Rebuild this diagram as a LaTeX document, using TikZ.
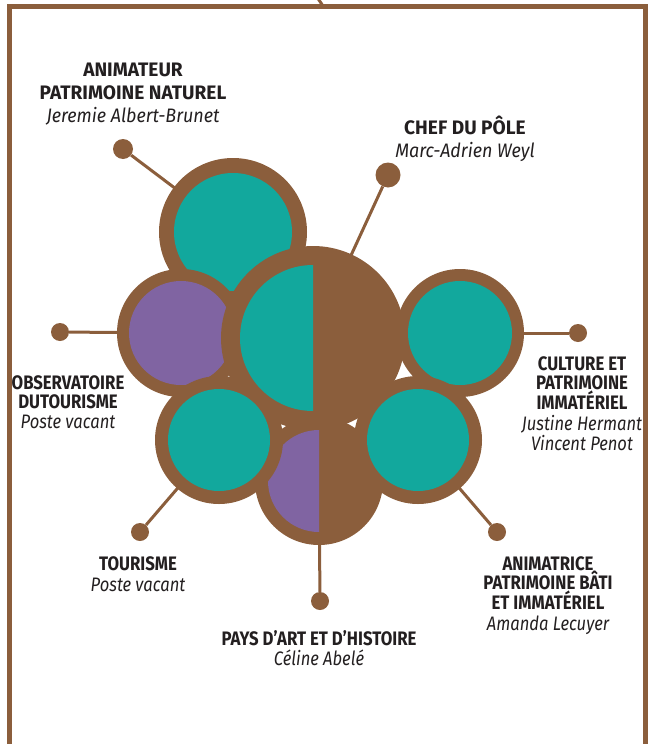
\documentclass[tikz,border=0pt]{standalone}
\usepackage{fontspec}
\setmainfont{Fira Sans}
\newfontfamily\serre{Fira Sans}[BoldFeatures={FakeStretch=0.86}, ItalicFeatures={FakeStretch=0.85}]
\newfontfamily\ample{Fira Sans}[BoldFeatures={FakeStretch=0.98}, ItalicFeatures={FakeStretch=0.92}]
\usetikzlibrary{positioning}
\definecolor{brun}{HTML}{8B5E3C}
\definecolor{turq}{HTML}{12A89D}
\definecolor{mauve}{HTML}{8064A2}
\definecolor{encre}{HTML}{231F20}
\tikzstyle{bulle} = [circle, fill=brun, inner sep=0pt, minimum size=128pt]
\tikzstyle{pastille} = [circle, fill=brun, inner sep=0pt, minimum size=18pt]
\tikzstyle{lien} = [draw=brun, line width=3pt, shorten >=-3pt]
\tikzstyle{titre} = [align=center, anchor=north, text=encre, inner sep=0pt, font=\serre\fontsize{19.5}{19.5}\selectfont\bfseries]
\tikzstyle{grandtitre} = [titre, font=\ample\fontsize{19.5}{23}\selectfont\bfseries]
\newcommand{\nom}[1]{{\mdseries\itshape #1}}

\begin{document}
\begin{tikzpicture}[x=1pt, y=-1pt]
\useasboundingbox (0,0) rectangle (655,744);
\clip (0,0) rectangle (655,744);

% cadre
\draw[brun, line width=4.5pt] (9.5,760) -- (9.5,6.5) -- (645.5,6.5) -- (645.5,760);
\draw[brun, line width=3pt] (317,-3) -- (323,6);

% les bulles
\node (natC) [bulle, minimum size=148pt] at (233,232) {};
\fill[turq] (natC.center) circle[radius=59pt];
\node (obsC) [bulle] at (181,333) {};
\fill[mauve] (obsC.center) circle[radius=52pt];
\node (chefC) [bulle, minimum size=184pt] at (313,338) {};
\fill[turq] ([yshift=73pt]chefC.center) arc[start angle=90, end angle=270, radius=73pt] -- cycle;
\node (culC) [bulle] at (460,333) {};
\fill[turq] (culC.center) circle[radius=52pt];
\node (payC) [bulle] at (319,481) {};
\fill[mauve] ([yshift=51pt]payC.center) arc[start angle=90, end angle=270, radius=51pt] -- cycle;
\node (tourC) [bulle] at (219,440) {};
\fill[turq] (tourC.center) circle[radius=51pt];
\node (aniC) [bulle] at (418,440) {};
\fill[turq] (aniC.center) circle[radius=51pt];

% pastilles et liens
\node (natD) [pastille, minimum size=20pt] at (123,149) {};
\node (chefD) [pastille, minimum size=25pt] at (388,175) {};
\node (obsD) [pastille] at (60,332) {};
\node (culD) [pastille] at (578,333) {};
\node (tourD) [pastille] at (140,532) {};
\node (payD) [pastille] at (320,601) {};
\node (aniD) [pastille] at (497,532) {};
\foreach \p in {nat,chef,obs,cul,tour,pay,ani}
  \draw[lien] (\p D) -- (\p C);

% textes
\node (natL) [grandtitre] at (133,62.5) {ANIMATEUR\\PATRIMOINE NATUREL\\\nom{Jeremie Albert-Brunet}};
\node (chefL) [grandtitre] at (465,116) {CHEF DU PÔLE\\\nom{Marc-Adrien Weyl}};
\node (obsL) [titre] at (68,375) {OBSERVATOIRE\\DUTOURISME\\\nom{Poste vacant}};
\node (culL) [titre] at (582,356) {CULTURE ET\\PATRIMOINE\\IMMATÉRIEL\\[2pt]\nom{Justine Hermant}\\\nom{Vincent Penot}};
\node (tourL) [titre] at (138,556) {TOURISME\\[2pt]\nom{Poste vacant}};
\node (payL) [titre] at (319,630.5) {PAYS D’ART ET D’HISTOIRE\\\nom{Céline Abelé}};
\node (aniL) [titre] at (548,556) {ANIMATRICE\\PATRIMOINE BÂTI\\ET IMMATÉRIEL\\[2pt]\nom{Amanda Lecuyer}};
\end{tikzpicture}
\end{document}
